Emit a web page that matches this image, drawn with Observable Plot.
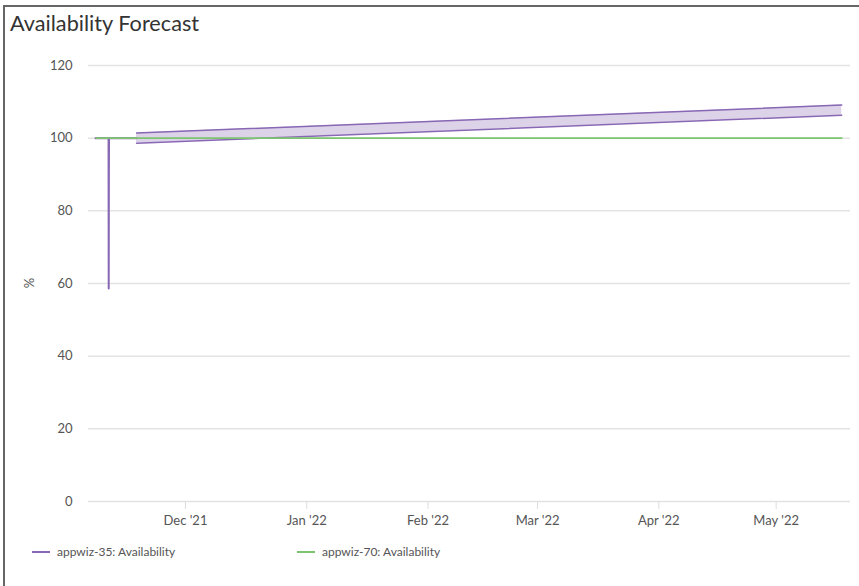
<!DOCTYPE html>
<html>
<head>
<meta charset="utf-8">
<script src="https://cdn.jsdelivr.net/npm/d3@7"></script>
<script src="https://cdn.jsdelivr.net/npm/@observablehq/plot@0.6"></script>
<style>
  html, body { margin: 0; padding: 0; background: #fff; }
  body { width: 859px; height: 586px; position: relative; overflow: hidden; font-family: Lato, "Noto Sans", sans-serif; }
  #frame { position: absolute; left: 3px; top: 5px; width: 856px; height: 581px; border-top: 2px solid #666; border-left: 2px solid #666; box-sizing: border-box; }
  #title { position: absolute; left: 10px; top: 10px; font-size: 21.7px; color: #333; font-family: Lato, sans-serif; }
  #chart { position: absolute; left: 0; top: 40px; }
  #legend { position: absolute; top: 544px; left: 0; width: 859px; height: 18px; font-size: 12px; color: #555; }
  .item { position: absolute; display: flex; align-items: center; }
  .sw { width: 18px; height: 0; border-top: 2px solid; margin-right: 7px; }
</style>
</head>
<body>
<div id="frame"></div>
<div id="title">Availability Forecast</div>
<div id="chart"></div>
<div id="legend"></div>
<script>
const seriesNames = ["appwiz-35: Availability", "appwiz-70: Availability"];
const seriesColors = ["#8867b4", "#7cc46f"];

// appwiz-35 observed availability (dip on Nov 11)
const actualDates = ["2021-11-08T00:00", "2021-11-11T08:00", "2021-11-11T09:00", "2021-11-11T10:00", "2021-11-11T11:00", "2021-11-18T12:00"];
const actualValues = [100, 100, 58.6, 90.7, 100, 100];

// appwiz-35 forecast band
const forecastDates = ["2021-11-18T12:00", "2022-05-17T18:00"];
const forecastLower = [98.6, 106.3];
const forecastUpper = [101.4, 109.1];

// appwiz-70 availability
const greenDates = ["2021-11-08T06:00", "2022-05-17T18:00"];
const greenValues = [100, 100];

const yTicks = [0, 20, 40, 60, 80, 100, 120];
const xTicks = ["2021-12-01", "2022-01-01", "2022-02-01", "2022-03-01", "2022-04-01", "2022-05-01"];

const parse = s => new Date(s + (s.length === 10 ? "T00:00Z" : "Z"));
const actual = actualDates.map((d, i) => ({date: parse(d), v: actualValues[i]}));
const forecast = forecastDates.map((d, i) => ({date: parse(d), lo: forecastLower[i], hi: forecastUpper[i]}));
const green = greenDates.map((d, i) => ({date: parse(d), v: greenValues[i]}));

const chart = Plot.plot({
  width: 859,
  height: 491,
  marginTop: 25,
  marginBottom: 30,
  marginLeft: 88,
  marginRight: 9,
  style: {fontFamily: "Lato, sans-serif", fontSize: "13px", color: "#555", background: "transparent"},
  x: {type: "utc", domain: [parse("2021-11-06T05:00"), parse("2022-05-20T00:00")], ticks: xTicks.map(parse), tickFormat: d3.utcFormat("%b '%y"), label: null},
  y: {domain: [0, 120], ticks: yTicks, label: null},
  marks: [
    Plot.ruleY(yTicks, {stroke: "#e3e3e3", strokeWidth: 1.5}),
    Plot.axisY({ticks: yTicks, tickSize: 0, tickPadding: 16, fontSize: 13, fill: "#555"}),
    Plot.axisX({ticks: xTicks.map(parse), tickFormat: d3.utcFormat("%b '%y"), tickSize: 8, stroke: "#ddd", tickPadding: 6, fontSize: 13, fill: "#555"}),
    Plot.areaY(forecast, {x: "date", y1: "lo", y2: "hi", fill: "#ddd3e9", curve: "linear"}),
    Plot.lineY(forecast, {x: "date", y: "hi", stroke: seriesColors[0], strokeWidth: 1.5}),
    Plot.lineY(forecast, {x: "date", y: "lo", stroke: seriesColors[0], strokeWidth: 1.5}),
    Plot.lineY(actual, {x: "date", y: "v", stroke: seriesColors[0], strokeWidth: 2}),
    Plot.lineY(green, {x: "date", y: "v", stroke: seriesColors[1], strokeWidth: 1.8})
  ]
});
document.getElementById("chart").appendChild(chart);

// y-axis label
const svg = d3.select(chart);
svg.append("text")
  .attr("transform", "translate(31," + (283 - 40) + ") rotate(-90)")
  .attr("text-anchor", "middle")
  .attr("dominant-baseline", "middle")
  .attr("font-size", 13)
  .attr("fill", "#555")
  .attr("font-family", "Lato, sans-serif")
  .text("%");

// legend
const legendLeft = [32, 297];
const legend = document.getElementById("legend");
seriesNames.forEach((name, i) => {
  const item = document.createElement("div");
  item.className = "item";
  item.style.left = legendLeft[i] + "px";
  item.innerHTML = `<div class="sw" style="border-color:${seriesColors[i]}"></div><span>${name}</span>`;
  legend.appendChild(item);
});
</script>
</body>
</html>
